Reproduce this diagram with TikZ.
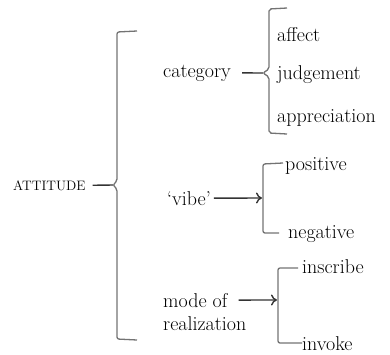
\documentclass[tikz,border=0pt]{standalone}
\usetikzlibrary{arrows.meta}
\begin{document}
\begin{tikzpicture}[x=1pt,y=-1pt,
  lbl/.style={anchor=base west,inner sep=0pt,text=black,font=\fontsize{20}{24}\selectfont},
  brk/.style={draw=black!55,line width=1.3pt,rounded corners=2pt},
  lnk/.style={draw=black!80,line width=1.4pt},
  arr/.style={lnk,-{To[length=6pt,width=11pt,line width=1.4pt]}}]
\useasboundingbox (0,0) rectangle (390,354);
% labels
\node[lbl,font=\fontsize{13.7}{16}\selectfont] (att) at (13,190) {ATTITUDE};
\node[lbl] (cat) at (163,77) {category};
\node[lbl] (aff) at (277,41) {affect};
\node[lbl] (jud) at (277,79) {judgement};
\node[lbl] (app) at (277,122) {appreciation};
\node[lbl] (vibe) at (167,205) {`vibe'};
\node[lbl] (pos) at (285,170) {positive};
\node[lbl] (neg) at (288,238) {negative};
\node[lbl] (mode) at (163,307) {mode of};
\node[lbl] (real) at (163,330) {realization};
\node[lbl] (ins) at (302,273) {inscribe};
\node[lbl] (inv) at (302,350) {invoke};
% bracket tips / anchors
\coordinate (bigtip) at (113,185);
\coordinate (cattip) at (263,73);
\coordinate (vibebar) at (262,198);
\coordinate (modebar) at (277,300);
% big brace
\draw[brk] (137,31) -- (117,32) -- (117,181) -- (113,185) -- (117,189) -- (117,339) -- (137,340);
\draw[lnk] ([xshift=7pt]att.east) -- (bigtip);
% category brace
\draw[brk] (287,8) -- (269,9) -- (269,69) -- (cattip) -- (269,77) -- (269,133) -- (287,134);
\draw[lnk] ([xshift=11pt]cat.east) -- (cattip);
% vibe bracket
\draw[brk] (283,163) -- (263,164) -- (263,233) -- (279,233);
\draw[arr] ([xshift=3pt]vibe.east) -- (vibebar);
% mode bracket
\draw[brk] (298,268) -- (278,268) -- (278,343) -- (302,343);
\draw[arr] ([xshift=11pt]mode.east) -- (modebar);
\end{tikzpicture}
\end{document}
